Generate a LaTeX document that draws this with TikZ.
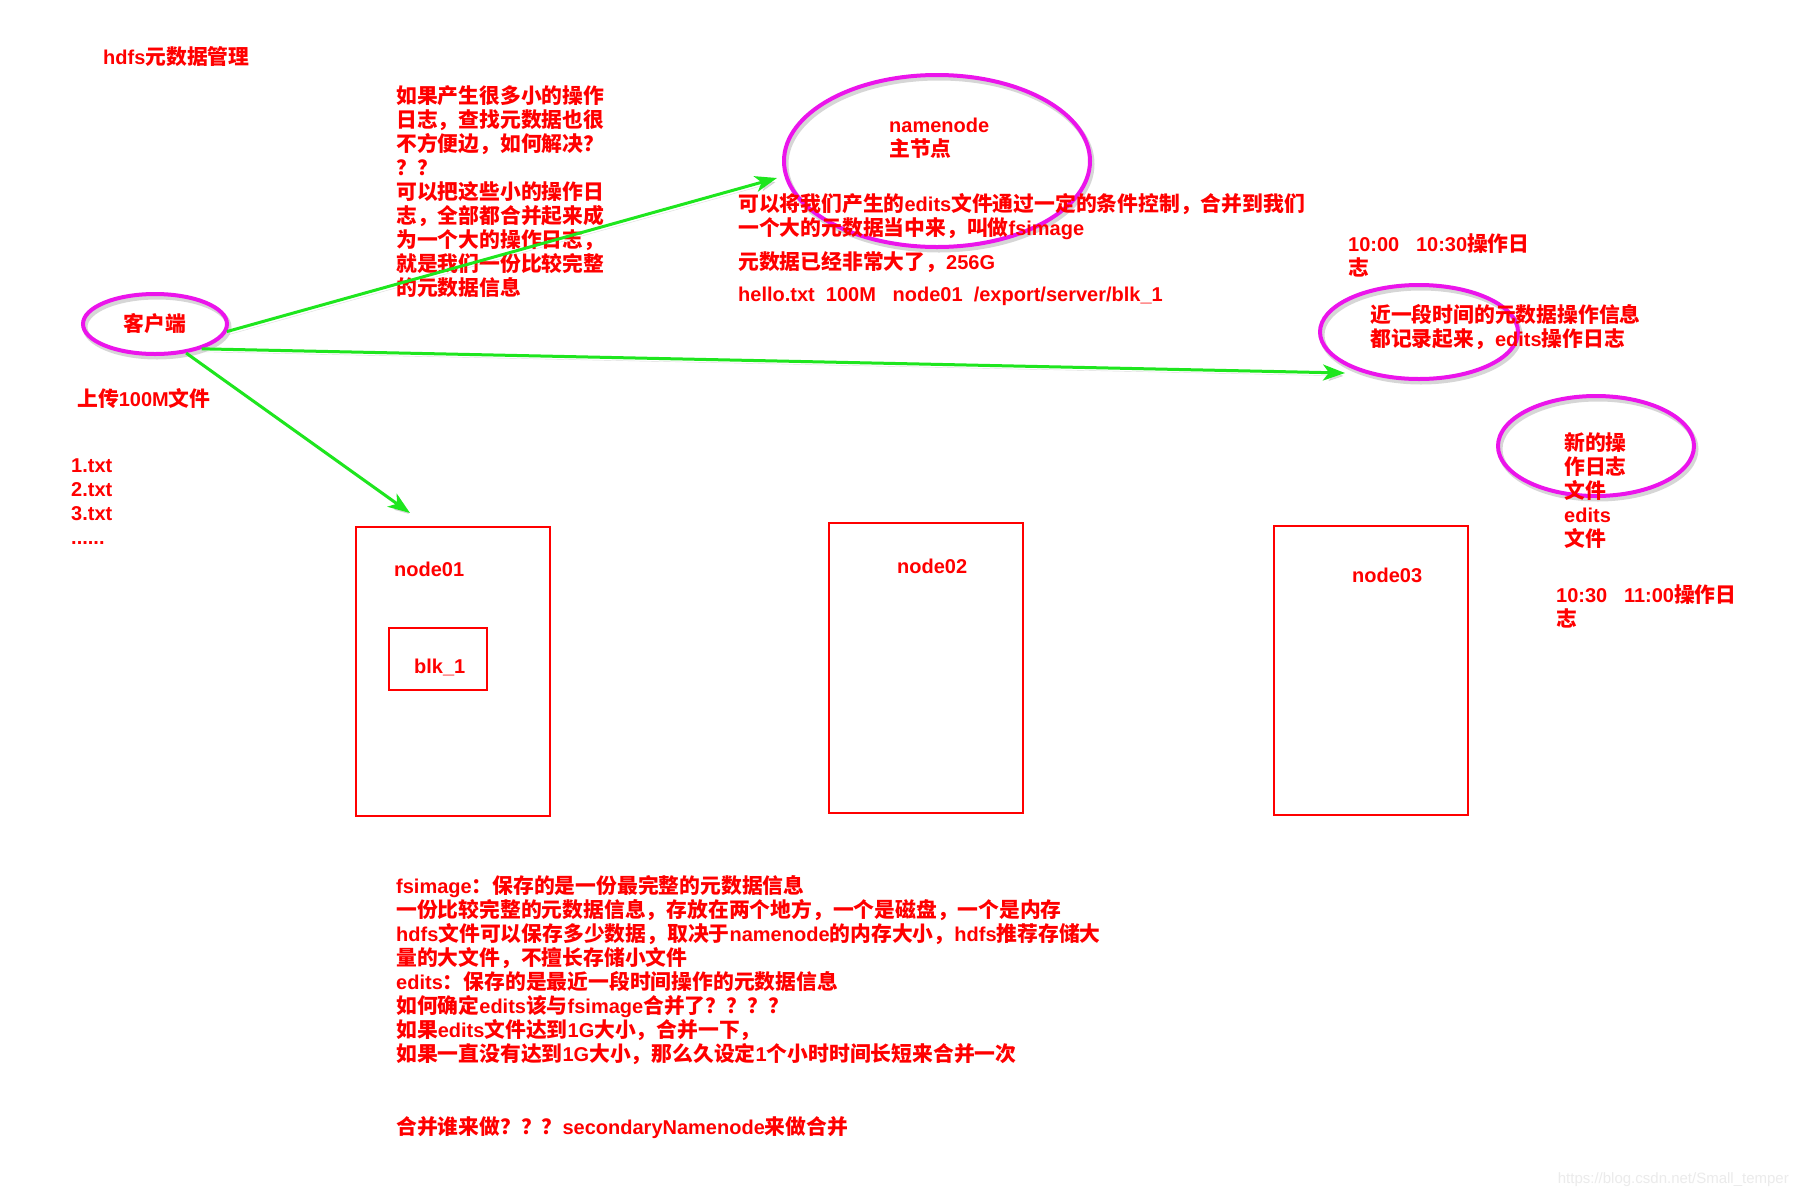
\documentclass[tikz,border=0pt]{standalone}
\usepackage{fontspec}
\usepackage{tikz}
\usetikzlibrary{arrows.meta,shapes.geometric}
\setmainfont{Liberation Sans}
\newfontfamily\cjkfont{Noto Sans CJK SC}[Scale=1.04]

\newXeTeXintercharclass\hanclass
\newcount\hancode
\def\hanrange#1#2{\hancode=#1\relax
  \loop\XeTeXcharclass\hancode=\hanclass
  \ifnum\hancode<#2\advance\hancode by 1\repeat}
\hanrange{"3000}{"303F}
\hanrange{"4E00}{"9FFF}
\hanrange{"FF00}{"FFEF}
\XeTeXinterchartoks 0 \hanclass={\begingroup\cjkfont}
\XeTeXinterchartoks 4095 \hanclass={\begingroup\cjkfont}
\XeTeXinterchartoks \hanclass 0={\endgroup}
\XeTeXinterchartoks \hanclass 4095={\endgroup}
\XeTeXinterchartokenstate=1

\definecolor{noteRed}{RGB}{255,0,0}
\definecolor{bubbleMagenta}{RGB}{235,20,235}
\definecolor{arrowGreen}{RGB}{30,230,30}

\begin{document}
\begin{tikzpicture}[x=1pt,y=-1pt]
  \fill[white] (0,0) rectangle (1800,1200);
  \useasboundingbox (0,0) rectangle (1800,1200);

  \tikzset{
    bubble/.style={ellipse, draw=bubbleMagenta, line width=4pt, inner sep=0pt,
      text=noteRed, font=\bfseries\fontsize{20}{24}\selectfont,
      preaction={draw=black!45, opacity=0.35, line width=5pt, transform canvas={shift={(2pt,-3pt)}}}},
    server/.style={draw=noteRed, line width=2pt, inner sep=0pt},
    green arc/.style={-{Stealth[length=22pt,width=16pt,inset=6pt]}, arrowGreen, line width=3pt,
      preaction={draw=black!45, opacity=0.3, transform canvas={shift={(2pt,-3pt)}}}}
  }

  \node[bubble, minimum width=144pt, minimum height=60pt] (client) at (155,324) {客户端};
  \node[bubble, minimum width=306pt, minimum height=172pt] (namenode) at (937,161) {};
  \node[bubble, minimum width=198pt, minimum height=94pt] (editslog) at (1419,332) {};
  \node[bubble, minimum width=196pt, minimum height=100pt] (newedits) at (1596,446) {};

  \node[server, minimum width=194pt, minimum height=289pt] (node01) at (453,671) {};
  \node[server, minimum width=194pt, minimum height=290pt] (node02) at (926,668) {};
  \node[server, minimum width=194pt, minimum height=289pt] (node03) at (1371,670) {};
  \node[server, minimum width=98pt, minimum height=62pt] (blk) at (438,659) {};

  \begin{scope}[every node/.style={anchor=north west, inner sep=0pt, align=left, text=noteRed,
      font=\bfseries\fontsize{20}{24}\selectfont}]
    \node (title) at (103,46) {hdfs元数据管理};
    \node (smalllogs) at (396,85) {如果产生很多小的操作\\日志，查找元数据也很\\不方便边，如何解决？\\？？\\可以把这些小的操作日\\志，全部都合并起来成\\为一个大的操作日志，\\就是我们一份比较完整\\的元数据信息};
    \node (nntext) at (889,118) {namenode\\主节点};
    \node (mergenote) at (738,193) {可以将我们产生的edits文件通过一定的条件控制，合并到我们\\一个大的元数据当中来，叫做fsimage};
    \node (bignote) at (738,251) {元数据已经非常大了，256G};
    \node (hellonote) at (738,287) {hello.txt\ \ 100M\ \ \ node01\ \ /export/server/blk\_1};
    \node (upload) at (77,388) {上传100M文件};
    \node (files) at (71,459) {1.txt\\2.txt\\3.txt\\......};
    \node (n1label) at (394,562) {node01};
    \node (n2label) at (897,559) {node02};
    \node (n3label) at (1352,568) {node03};
    \node (blklabel) at (414,659) {blk\_1};
    \node (time1) at (1348,234) {10:00\ \ \ 10:30操作日\\志};
    \node (logtext) at (1370,304) {近一段时间的元数据操作信息\\都记录起来，edits操作日志};
    \node (newtext) at (1564,432) {新的操\\作日志\\文件\\edits\\文件};
    \node (time2) at (1556,585) {10:30\ \ \ 11:00操作日\\志};
    \node (summary) at (396,875) {fsimage：保存的是一份最完整的元数据信息\\一份比较完整的元数据信息，存放在两个地方，一个是磁盘，一个是内存\\hdfs文件可以保存多少数据，取决于namenode的内存大小，hdfs推荐存储大\\量的大文件，不擅长存储小文件\\edits：保存的是最近一段时间操作的元数据信息\\如何确定edits该与fsimage合并了？？？？\\如果edits文件达到1G大小，合并一下，\\如果一直没有达到1G大小，那么久设定1个小时时间长短来合并一次};
    \node (whomerge) at (396,1116) {合并谁来做？？？secondaryNamenode来做合并};
  \end{scope}

  \node[anchor=east, inner sep=0pt, text=black!8, font=\fontsize{15}{18}\selectfont] (mark) at (1789,1180) {https://blog.csdn.net/Small\_temper};

  \coordinate (tonn) at (777,178);
  \coordinate (tolog) at (1345,373);
  \coordinate (toblk) at (410,513);

  \draw[green arc] (client.-6) -- (tonn);
  \draw[green arc] (client.-28) -- (tolog);
  \draw[green arc] (client.-43) -- (toblk);

\end{tikzpicture}
\end{document}
